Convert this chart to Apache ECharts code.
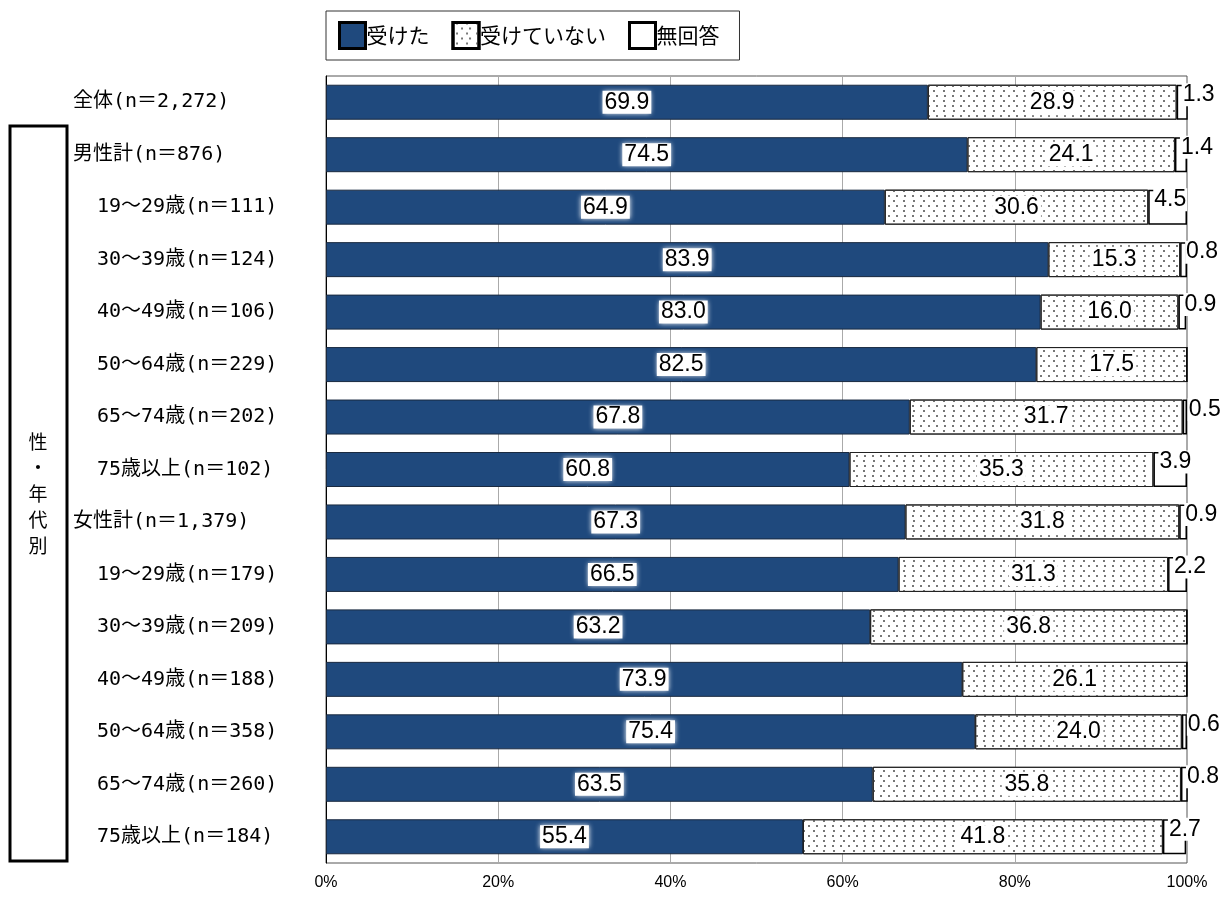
<!DOCTYPE html>
<html><head><meta charset="utf-8">
<script src="https://cdn.jsdelivr.net/npm/echarts@6/dist/echarts.min.js"></script>
<style>html,body{margin:0;padding:0;background:#fff}#c{width:1230px;height:898px}</style>
</head><body><div id="c"></div>
<script>
const categories = ['全体(n＝2,272)','男性計(n＝876)','19～29歳(n＝111)','30～39歳(n＝124)','40～49歳(n＝106)','50～64歳(n＝229)','65～74歳(n＝202)','75歳以上(n＝102)','女性計(n＝1,379)','19～29歳(n＝179)','30～39歳(n＝209)','40～49歳(n＝188)','50～64歳(n＝358)','65～74歳(n＝260)','75歳以上(n＝184)'];
const received = [69.9,74.5,64.9,83.9,83.0,82.5,67.8,60.8,67.3,66.5,63.2,73.9,75.4,63.5,55.4];
const notReceived = [28.9,24.1,30.6,15.3,16.0,17.5,31.7,35.3,31.8,31.3,36.8,26.1,24.0,35.8,41.8];
const noAnswer = [1.3,1.4,4.5,0.8,0.9,0,0.5,3.9,0.9,2.2,0,0,0.6,0.8,2.7];
const seriesNames = ['受けた','受けていない','無回答'];
const xTicks = [0,20,40,60,80,100];

const FONT = "'DejaVu Sans Mono','Noto Sans CJK JP',monospace";
const NUMFONT = "'Liberation Sans',sans-serif";
const CJK = "'Noto Sans CJK JP',sans-serif";
const chart = echarts.init(document.getElementById('c'));
const fmt = p => p.value > 0 ? p.value.toFixed(1) : '';
const inLabel = {
  show: true, position: 'inside', formatter: fmt, color: '#000',
  fontFamily: NUMFONT, fontSize: 23, backgroundColor: '#fff', padding: [0, 2],
  shadowColor: '#fff', shadowBlur: 5
};
chart.setOption({
  animation: false,
  legend: {
    left: 326, top: 11, itemWidth: 26, itemHeight: 26, itemGap: 22, icon: 'rect',
    padding: [10, 20, 10, 12], borderColor: '#333', borderWidth: 1,
    itemStyle: { borderColor: '#000', borderWidth: 3 },
    textStyle: { fontFamily: CJK, fontSize: 21, color: '#000', padding: [0, 0, 0, -4] },
    data: seriesNames
  },
  grid: { left: 326, right: 43, top: 76, bottom: 35, show: true, borderColor: '#555', borderWidth: 1 },
  xAxis: {
    type: 'value', min: 0, max: 100, interval: 20,
    axisLabel: { formatter: v => xTicks.includes(v) ? v + '%' : '', fontFamily: NUMFONT, fontSize: 16, color: '#000', margin: 12 },
    splitLine: { lineStyle: { color: '#aaa' } },
    axisLine: { show: false }, axisTick: { show: false }
  },
  yAxis: {
    type: 'category', data: categories, inverse: true,
    axisLine: { lineStyle: { color: '#000' } }, axisTick: { show: false },
    axisLabel: {
      align: 'left', margin: 253, color: '#000',
      formatter: v => (v.indexOf('計') >= 0 || v.indexOf('全体') >= 0) ? '{a|' + v + '}' : '{b|' + v + '}',
      rich: {
        a: { fontFamily: FONT, fontSize: 20, color: '#000' },
        b: { fontFamily: FONT, fontSize: 20, color: '#000', padding: [0, 0, 0, 24] }
      }
    }
  },
  series: [
    { name: seriesNames[0], type: 'bar', stack: 's', data: received, barWidth: 35,
      itemStyle: { color: '#1f497d', borderColor: '#1a2a40', borderWidth: 1 }, label: inLabel },
    { name: seriesNames[1], type: 'bar', stack: 's', data: notReceived, barWidth: 35,
      itemStyle: { color: '#fff', borderColor: '#222', borderWidth: 1,
        decal: { symbol: 'rect', symbolSize: 1, color: '#777', dashArrayX: [[1.5, 6], [0, 3, 1.5, 4.5]], dashArrayY: [1.5, 2.5] } },
      label: inLabel },
    { name: seriesNames[2], type: 'bar', stack: 's', data: noAnswer, barWidth: 35,
      itemStyle: { color: '#fff', borderColor: '#000', borderWidth: 1.5 },
      label: { show: true, position: [5, 10], align: 'left', verticalAlign: 'middle', formatter: fmt,
        color: '#000', fontFamily: NUMFONT, fontSize: 23, backgroundColor: '#fff', padding: [0, 1] } }
  ],
  graphic: [
    { type: 'rect', shape: { x: 10, y: 126, width: 57, height: 735 }, style: { fill: 'none', stroke: '#000', lineWidth: 3 } },
    { type: 'text', x: 38, y: 494, style: { text: '性\n・\n年\n代\n別', font: "19px 'Noto Sans CJK JP'", fill: '#000', align: 'center', verticalAlign: 'middle', lineHeight: 26 } }
  ]
});
</script></body></html>
